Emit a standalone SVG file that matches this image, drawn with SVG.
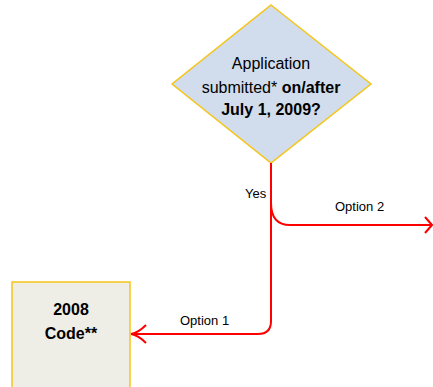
<svg xmlns="http://www.w3.org/2000/svg" width="433" height="387" viewBox="0 0 433 387">
  <style>
    .lbl { font-family: "Liberation Sans", Arial, sans-serif; fill: #000; }
    .node-text { font-size: 16px; text-anchor: middle; }
    .edge-text { font-size: 13px; }
    .edge { fill: none; stroke: #FF0000; stroke-width: 2; }
  </style>
  <rect width="433" height="387" fill="#FFFFFF"/>

  <g id="decision">
    <polygon points="271,5 371,84 271,163 172,84" fill="#D1DCEC" stroke="#F5C518" stroke-width="1.5"/>
    <text class="lbl node-text" x="271" y="69">Application</text>
    <text class="lbl node-text" x="271" y="93">submitted* <tspan font-weight="bold">on/after</tspan></text>
    <text class="lbl node-text" x="271" y="115" font-weight="bold">July 1, 2009?</text>
  </g>

  <g id="code2008">
    <rect x="12" y="282" width="118" height="110" fill="#EEEEE6" stroke="#F5C518" stroke-width="1.5"/>
    <text class="lbl node-text" x="71" y="315" font-weight="bold">2008</text>
    <text class="lbl node-text" x="71" y="339" font-weight="bold">Code**</text>
  </g>

  <g id="connectors">
    <!-- Yes trunk, turning left to Option 1 -->
    <path class="edge" d="M271,163 V321 Q271,334 258,334 H131"/>
    <path class="edge" d="M146,325 Q138,333 131,334 Q138,335 146,343"/>
    <!-- Option 2 branch -->
    <path class="edge" d="M271,203 Q271,225 290,225 H431"/>
    <path class="edge" d="M425,217 L432,225 L425,233"/>
    <text class="lbl edge-text" x="245" y="198">Yes</text>
    <text class="lbl edge-text" x="335" y="211">Option 2</text>
    <text class="lbl edge-text" x="180" y="325">Option 1</text>
  </g>
</svg>
